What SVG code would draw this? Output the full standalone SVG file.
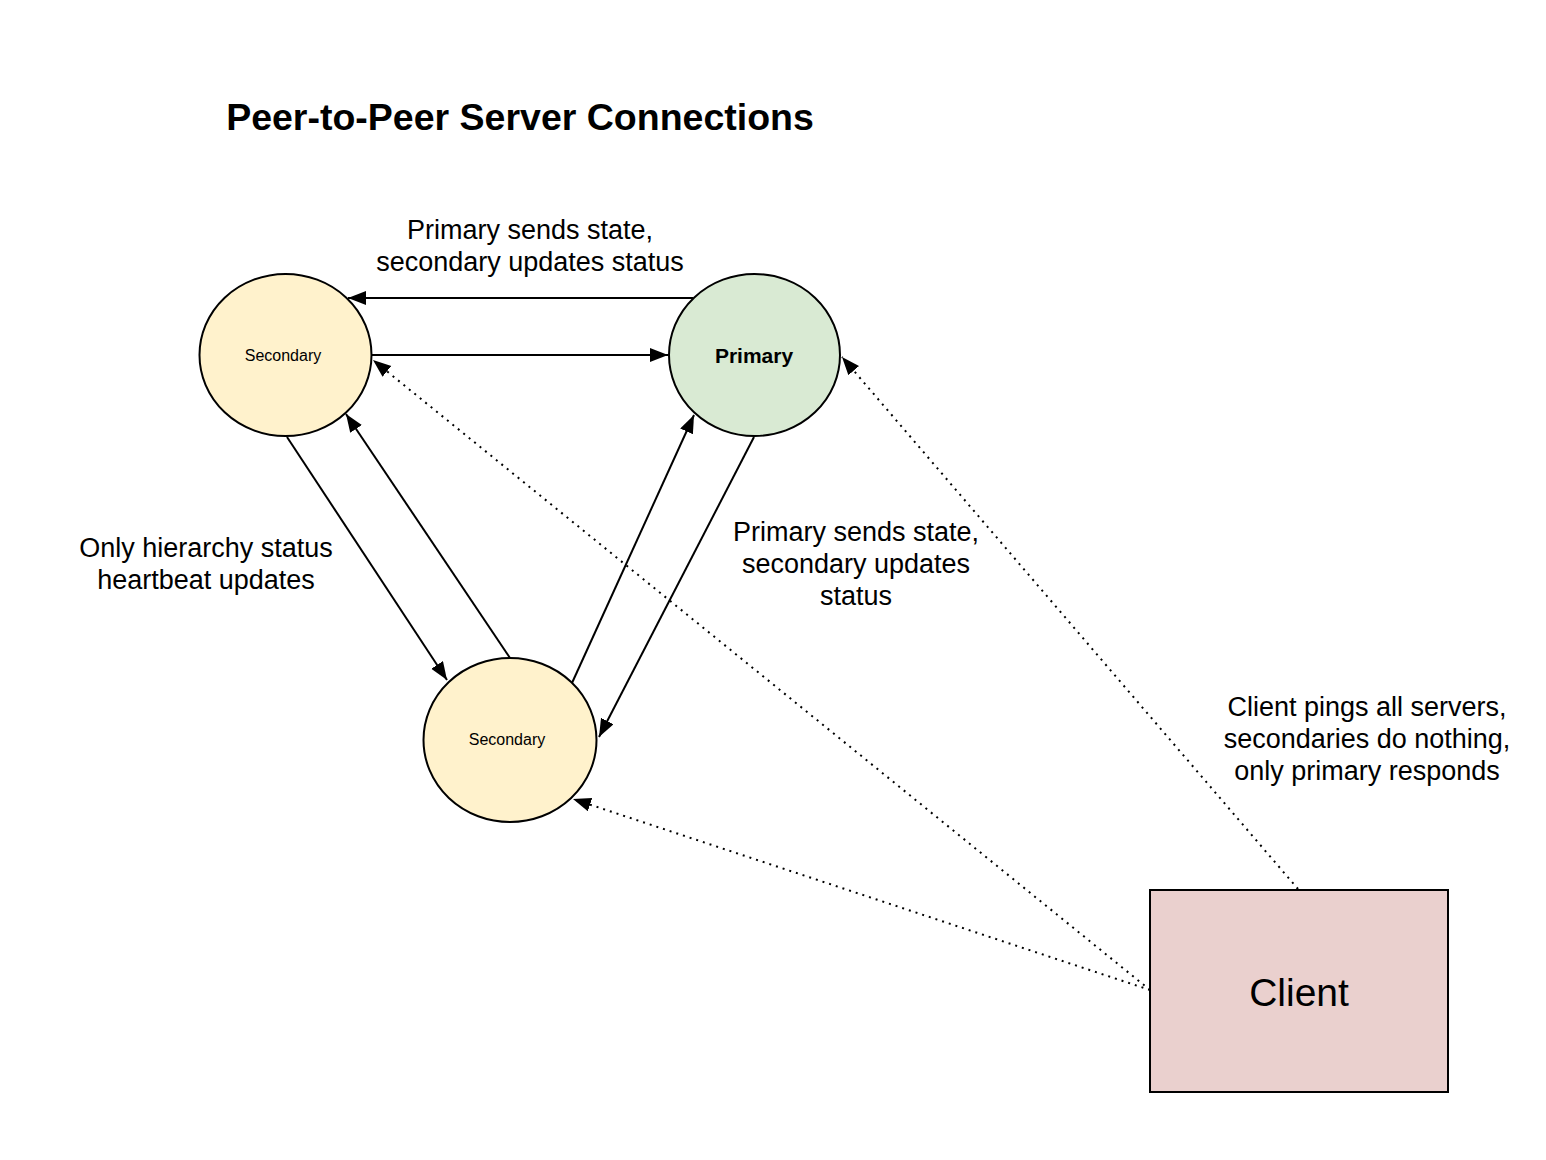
<svg xmlns="http://www.w3.org/2000/svg" width="1546" height="1160" viewBox="0 0 1546 1160">
<style>
text{font-family:"Liberation Sans",Arial,sans-serif;fill:#000}
.lbl{font-size:27px;text-anchor:middle}
.node{stroke:#000;stroke-width:2}
.c{fill:none;stroke:#000;stroke-width:2}
.d{fill:none;stroke:#000;stroke-width:2;stroke-dasharray:2,5}
</style>
<defs>
<marker id="ah" markerUnits="userSpaceOnUse" markerWidth="20" markerHeight="16" refX="18" refY="7" orient="auto">
<path d="M0,0 L18,7 L0,14 z" fill="#000"/>
</marker>
</defs>
<rect width="1546" height="1160" fill="#fff"/>
<text x="520" y="130" style="font-size:37.5px;font-weight:bold;text-anchor:middle">Peer-to-Peer Server Connections</text>
<g id="sec1">
<ellipse class="node" cx="285.5" cy="355" rx="86" ry="81" fill="#fff2cc"/>
<text x="283" y="361" style="font-size:16px;text-anchor:middle">Secondary</text>
</g>
<g id="primary">
<ellipse class="node" cx="754.5" cy="355" rx="85.5" ry="81" fill="#d9ead3"/>
<text x="754" y="363" style="font-size:21px;font-weight:bold;text-anchor:middle">Primary</text>
</g>
<g id="sec2">
<ellipse class="node" cx="510" cy="740" rx="86.5" ry="82" fill="#fff2cc"/>
<text x="507" y="745" style="font-size:16px;text-anchor:middle">Secondary</text>
</g>
<g id="client">
<rect class="node" x="1150" y="890" width="298" height="202" fill="#ead0ce"/>
<text x="1299" y="1006" style="font-size:39px;text-anchor:middle">Client</text>
</g>
<g id="connectors">
<path class="c" d="M693,298 L348,298" marker-end="url(#ah)"/>
<path class="c" d="M372,355 L668,355" marker-end="url(#ah)"/>
<path class="c" d="M287,437 L447,680" marker-end="url(#ah)"/>
<path class="c" d="M510,658 L346,414" marker-end="url(#ah)"/>
<path class="c" d="M572,683 L694,415" marker-end="url(#ah)"/>
<path class="c" d="M754,437 L599,737" marker-end="url(#ah)"/>
<path class="d" d="M1150,990 L373,360" marker-end="url(#ah)"/>
<path class="d" d="M1150,990 L573,799" marker-end="url(#ah)"/>
<path class="d" d="M1298,889 L842,357" marker-end="url(#ah)"/>
</g>
<g id="labels">
<text class="lbl" x="530" y="239">Primary sends state,</text>
<text class="lbl" x="530" y="271">secondary updates status</text>
<text class="lbl" x="206" y="557">Only hierarchy status</text>
<text class="lbl" x="206" y="589">heartbeat updates</text>
<text class="lbl" x="856" y="541">Primary sends state,</text>
<text class="lbl" x="856" y="573">secondary updates</text>
<text class="lbl" x="856" y="605">status</text>
<text class="lbl" x="1367" y="716">Client pings all servers,</text>
<text class="lbl" x="1367" y="748">secondaries do nothing,</text>
<text class="lbl" x="1367" y="780">only primary responds</text>
</g>
</svg>
